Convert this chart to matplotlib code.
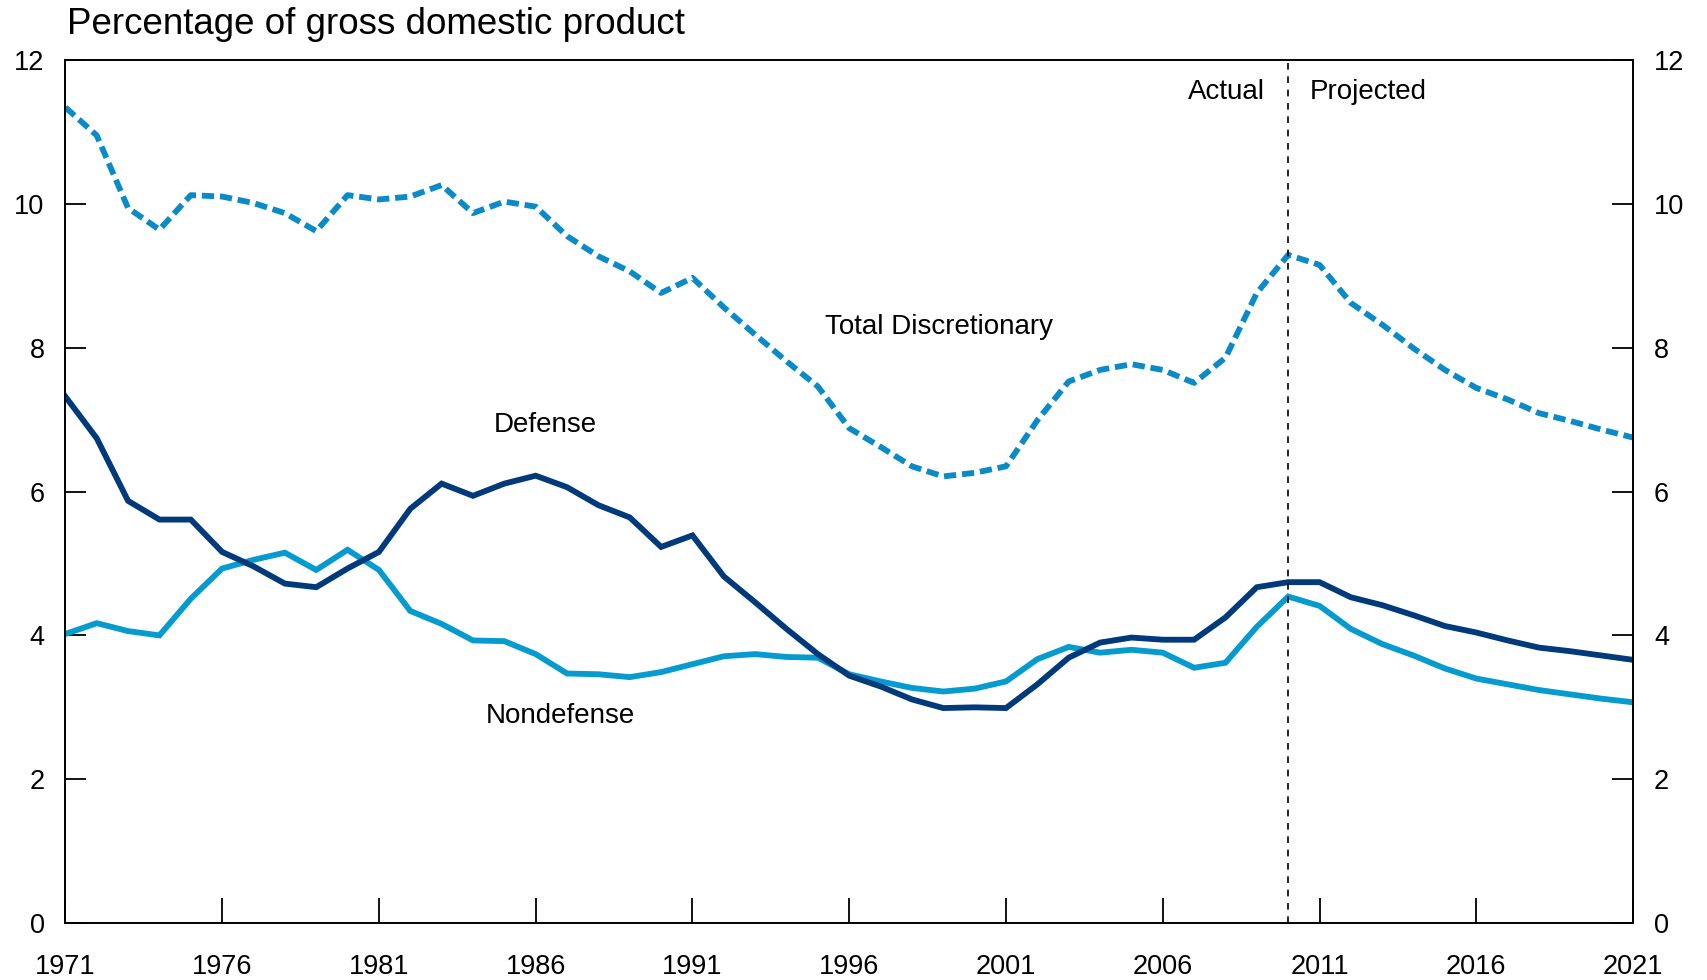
import matplotlib
matplotlib.use("Agg")
import matplotlib.pyplot as plt

plt.rcParams['font.family'] = ['Liberation Sans', 'DejaVu Sans']

years = list(range(1971, 2022))

total = [11.34, 10.95, 9.94, 9.64, 10.12, 10.10, 10.01, 9.87, 9.62, 10.12,
         10.06, 10.10, 10.26, 9.87, 10.03, 9.96, 9.55, 9.27, 9.06, 8.76,
         8.97, 8.56, 8.18, 7.81, 7.46, 6.88, 6.62, 6.35, 6.21, 6.26,
         6.35, 6.99, 7.53, 7.69, 7.77, 7.69, 7.51, 7.86, 8.76, 9.29,
         9.15, 8.62, 8.32, 7.99, 7.69, 7.44, 7.28, 7.09, 6.98, 6.86, 6.75]

defense = [7.32, 6.74, 5.87, 5.61, 5.61, 5.16, 4.96, 4.72, 4.67, 4.93,
           5.16, 5.76, 6.11, 5.94, 6.11, 6.22, 6.06, 5.81, 5.64, 5.23,
           5.39, 4.82, 4.46, 4.09, 3.74, 3.44, 3.29, 3.11, 2.99, 3.00,
           2.99, 3.32, 3.69, 3.90, 3.97, 3.94, 3.94, 4.25, 4.67, 4.74,
           4.74, 4.53, 4.42, 4.28, 4.13, 4.04, 3.93, 3.83, 3.78, 3.72, 3.66]

nondefense = [4.02, 4.17, 4.06, 4.00, 4.51, 4.93, 5.05, 5.15, 4.91, 5.19,
              4.91, 4.34, 4.16, 3.93, 3.92, 3.74, 3.47, 3.46, 3.42, 3.49,
              3.60, 3.71, 3.74, 3.70, 3.69, 3.46, 3.36, 3.27, 3.22, 3.26,
              3.36, 3.67, 3.84, 3.76, 3.80, 3.76, 3.55, 3.62, 4.12, 4.54,
              4.41, 4.09, 3.88, 3.72, 3.54, 3.40, 3.32, 3.24, 3.18, 3.12, 3.07]

xticks = list(range(1971, 2022, 5))
yticks = [0, 2, 4, 6, 8, 10, 12]
split_year = 2010

dark = '#003a7a'
light = '#069bcf'
dashed_blue = '#0a8ac6'

fig = plt.figure(figsize=(17.07, 9.8), dpi=100)
ax = fig.add_axes([0.0383, 0.058, 0.9184, 0.8809])

ax.plot(years, total, color=dashed_blue, lw=4.2, linestyle=(0, (2.1, 1.0)),
        dash_capstyle='butt')
ax.plot(years, nondefense, color=light, lw=4.2, solid_joinstyle='miter')
ax.plot(years, defense, color=dark, lw=4.2, solid_joinstyle='miter')

ax.axvline(split_year, color='black', lw=1.2, linestyle=(0, (4, 4)))

ax.set_xlim(1971, 2021)
ax.set_ylim(0, 12)
ax.set_xticks(xticks)
ax.set_yticks(yticks)

ax.tick_params(axis='x', direction='in', length=18, width=1.3, labelsize=19.5, pad=22.5)
ax.tick_params(axis='y', direction='in', length=15, width=1.3, labelsize=19.5,
               left=True, right=True, labelleft=True, labelright=True, pad=15)
for s in ax.spines.values():
    s.set_linewidth(1.4)

ax.text(1998.85, 8.29, "Total Discretionary", fontsize=20, ha='center', va='center')
ax.text(1986.3, 6.93, "Defense", fontsize=20, ha='center', va='center')
ax.text(1986.8, 2.88, "Nondefense", fontsize=20, ha='center', va='center')
ax.text(2009.25, 11.56, "Actual", fontsize=20, ha='right', va='center')
ax.text(2010.7, 11.56, "Projected", fontsize=20, ha='left', va='center')

fig.text(0.0395, 0.975, "Percentage of gross domestic product", fontsize=26.5,
         ha='left', va='center')

fig.savefig("out.png", dpi=100)
